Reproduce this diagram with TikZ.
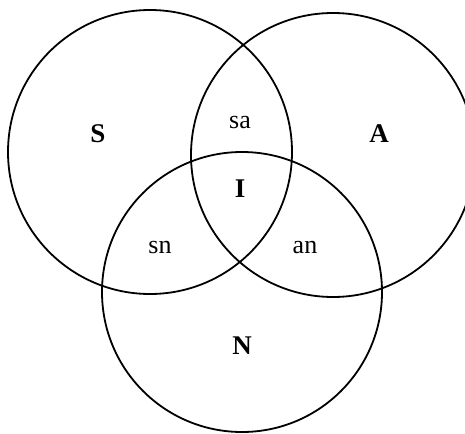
\documentclass[tikz,border=0pt]{standalone}
\usepackage{fontspec}
\setmainfont{Liberation Serif}
\usetikzlibrary{positioning}
\tikzset{
  set circle/.style={
    circle, draw, line width=1.8pt, minimum size=#1, inner sep=0pt
  },
  set label/.style={font=\fontsize{27}{27}\selectfont\bfseries, inner sep=0pt},
  part label/.style={font=\fontsize{26}{26}\selectfont, inner sep=0pt},
}
\begin{document}
\begin{tikzpicture}[x=1pt, y=-1pt]
  \useasboundingbox (0,0) rectangle (465,433);
  \clip (0,0) rectangle (465,433);

  % the three sets
  \node[set circle=284pt] (S) at (150,152) {};
  \node[set circle=284pt] (A) at (333,155) {};
  \node[set circle=280pt] (N) at (242,292) {};

  % names of the sets
  \node[set label] (lblS) at (98,134) {S};
  \node[set label] (lblA) at (379,134) {A};
  \node[set label] (lblN) at (242,346) {N};
  \node[set label] (lblI) at (240,189) {I};

  % pairwise overlaps
  \node[part label] (lblSA) at (240,123) {sa};
  \node[part label] (lblSN) at (160,247) {sn};
  \node[part label] (lblAN) at (305,247) {an};
\end{tikzpicture}
\end{document}
